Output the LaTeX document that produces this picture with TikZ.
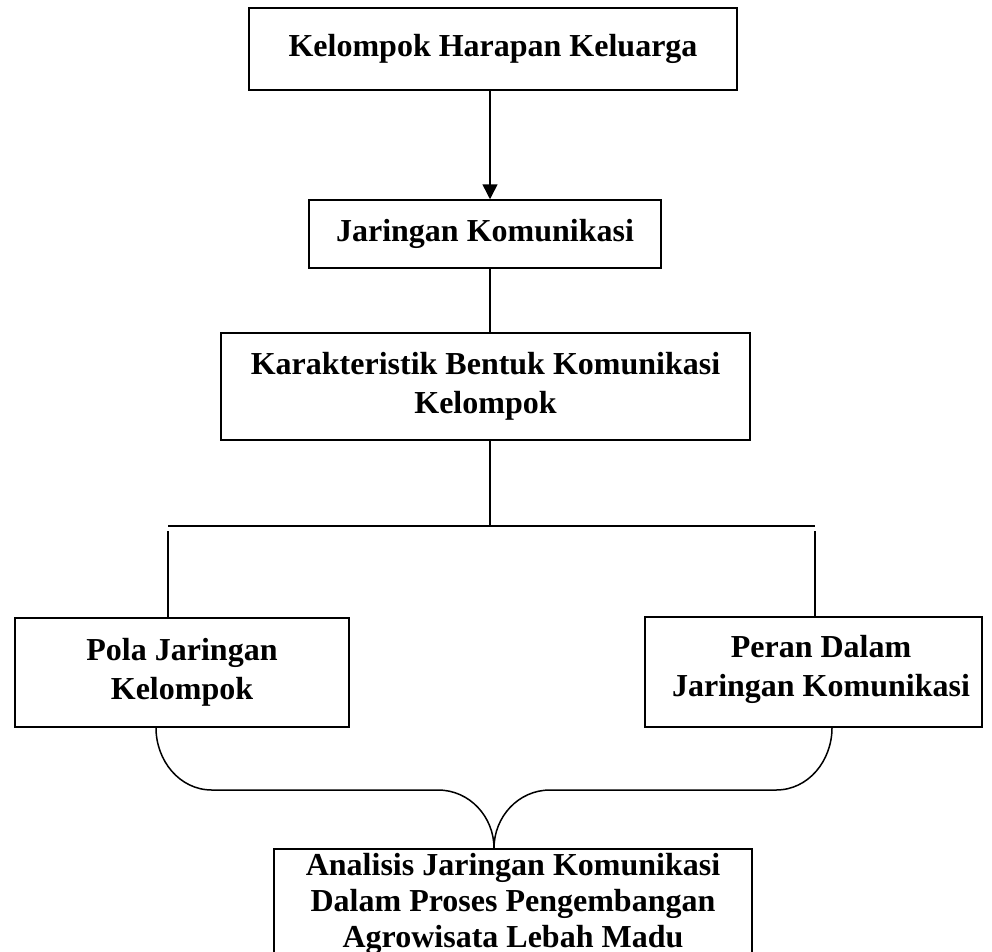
\documentclass[tikz,border=0pt]{standalone}
\usepackage{fontspec}
\setmainfont{Liberation Serif}
\usetikzlibrary{arrows.meta}
\begin{document}
\begin{tikzpicture}[x=1pt,y=-1pt,
  box/.style={draw, line width=1.5pt, inner sep=0pt, align=center, font=\fontsize{32}{39}\selectfont\bfseries},
  txt/.style={inner sep=0pt, align=center, font=\fontsize{32}{39}\selectfont\bfseries},
  conn/.style={line width=1.5pt},
  arr/.style={conn, -{Triangle[width=15pt,length=15pt]}}]
\useasboundingbox (0,0) rectangle (992,951);
\clip (0,0) rectangle (992,951);
% boxes
\node[box, minimum width=488pt, minimum height=82pt] (b1) at (493,49) {Kelompok Harapan Keluarga};
\node[box, minimum width=352pt, minimum height=68pt] (b2) at (485,234) {Jaringan Komunikasi};
\node[box, minimum width=529pt, minimum height=107pt] (b3) at (485.5,386.5) {Karakteristik Bentuk Komunikasi\\Kelompok};
\node[box, minimum width=334pt, minimum height=109pt] (b4) at (182,672.5) {Pola Jaringan\\Kelompok};
\node[box, minimum width=337pt, minimum height=110pt] (b5) at (813.5,672) {};
\node[txt] (t5) at (821,669) {Peran Dalam\\Jaringan Komunikasi};
\node[box, minimum width=478pt, minimum height=116pt] (b6) at (513,907) {};
\node[txt, font=\fontsize{32}{36}\selectfont\bfseries] (t6) at (513,904) {Analisis Jaringan Komunikasi\\Dalam Proses Pengembangan\\Agrowisata Lebah Madu};
% helper coordinates
\coordinate (spine) at (490,0);
\coordinate (barL) at (168,526);
\coordinate (barR) at (815,526);
\coordinate (barM) at (490,526);
\coordinate (bl) at (156,0);
\coordinate (br) at (832,0);
\coordinate (tip) at (494,0);
\coordinate (lc) at (212,790);
\coordinate (mlc) at (438,790);
\coordinate (mrc) at (550,790);
\coordinate (rc) at (776,790);
% connectors
\draw[arr] (b1.south -| spine) -- (b2.north -| spine);
\draw[conn] (b2.south -| spine) -- (b3.north -| spine);
\draw[conn] (b3.south -| spine) -- (barM);
\draw[conn] (barL) -- (barR);
\draw[conn] ([yshift=-5pt]barL) -- (b4.north -| barL);
\draw[conn] ([yshift=-5pt]barR) -- (b5.north -| barR);
% brace
\draw[conn] (b4.south -| bl) to[out=-90,in=180] (lc) -- (mlc) to[out=0,in=90] (b6.north -| tip);
\draw[conn] (b5.south -| br) to[out=-90,in=0] (rc) -- (mrc) to[out=180,in=90] (b6.north -| tip);
\end{tikzpicture}
\end{document}
